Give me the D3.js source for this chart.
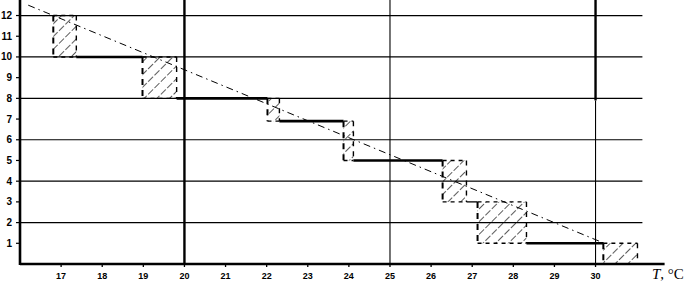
<!DOCTYPE html>
<html><head><meta charset="utf-8">
<script src="https://cdn.jsdelivr.net/npm/d3@7/dist/d3.min.js"></script>
<style>html,body{margin:0;padding:0;background:#fff;}svg{display:block;}</style>
</head><body>
<svg id="c" width="685" height="283"></svg>
<script>
// ---- data ----
const xTicks = [17,18,19,20,21,22,23,24,25,26,27,28,29,30];
const yTicks = [1,2,3,4,5,6,7,8,9,10,11,12];
const gridY = [2,4,6,8,10,12];
// uncertainty boxes: temperature range and value range
const boxT0 = [16.81, 18.98, 22.02, 23.87, 26.28, 27.13, 30.19];
const boxT1 = [17.37, 19.81, 22.31, 24.11, 26.86, 28.32, 31.02];
const boxTop = [12, 10, 8, 6.9, 5, 3, 1];
const boxBot = [10, 8, 6.9, 5, 3, 1, 0];
// trend line (dash-dot)
const trendT = [16.2, 30.25];
const trendV = [12.5, 0.97];

const svg = d3.select('#c');
const x = d3.scaleLinear().domain([16, 31.68]).range([20, 664.6]);
const y = d3.scaleLinear().domain([0, 12.75]).range([264, 0]);

// hatch pattern
const defs = svg.append('defs');
const pat = defs.append('pattern').attr('id','hatch').attr('patternUnits','userSpaceOnUse')
  .attr('width',9).attr('height',9).attr('patternTransform','rotate(45)');
pat.append('line').attr('x1',0).attr('y1',0).attr('x2',0).attr('y2',9)
  .attr('stroke','#000').attr('stroke-width',1.3).attr('stroke-dasharray','7,2');

// horizontal grid
svg.append('g').selectAll('line').data(gridY).join('line')
  .attr('x1', x(16)).attr('x2', x(31.14))
  .attr('y1', d=>y(d)).attr('y2', d=>y(d))
  .attr('stroke','#000').attr('stroke-width',1.2);

// vertical lines
svg.append('line').attr('x1',x(20)).attr('x2',x(20)).attr('y1',0).attr('y2',y(0)).attr('stroke','#000').attr('stroke-width',2.4);
svg.append('line').attr('x1',x(25)).attr('x2',x(25)).attr('y1',0).attr('y2',y(0)).attr('stroke','#000').attr('stroke-width',1.1);
svg.append('line').attr('x1',x(30)).attr('x2',x(30)).attr('y1',0).attr('y2',y(7.9)).attr('stroke','#000').attr('stroke-width',2.4);
svg.append('line').attr('x1',x(30)).attr('x2',x(30)).attr('y1',y(7.9)).attr('y2',y(0)).attr('stroke','#000').attr('stroke-width',1.1);

// boxes
const boxes = boxT0.map((t,i)=>({t0:t,t1:boxT1[i],top:boxTop[i],bot:boxBot[i]}));
const bg = svg.append('g');
bg.selectAll('rect.h').data(boxes).join('rect').attr('class','h')
  .attr('x',d=>x(d.t0)).attr('y',d=>y(d.top))
  .attr('width',d=>x(d.t1)-x(d.t0)).attr('height',d=>y(d.bot)-y(d.top))
  .attr('fill','url(#hatch)');
bg.selectAll('line.l').data(boxes).join('line').attr('class','l')
  .attr('x1',d=>x(d.t0)).attr('x2',d=>x(d.t0)).attr('y1',d=>y(d.top)).attr('y2',d=>y(d.bot))
  .attr('stroke','#000').attr('stroke-width',2).attr('stroke-dasharray','6,5');
bg.selectAll('line.r').data(boxes).join('line').attr('class','r')
  .attr('x1',d=>x(d.t1)).attr('x2',d=>x(d.t1)).attr('y1',d=>y(d.top)).attr('y2',d=>y(d.bot))
  .attr('stroke','#000').attr('stroke-width',1.4).attr('stroke-dasharray','5,5');
bg.selectAll('line.t').data(boxes).join('line').attr('class','t')
  .attr('x1',d=>x(d.t0)).attr('x2',d=>x(d.t1)).attr('y1',d=>y(d.top)).attr('y2',d=>y(d.top))
  .attr('stroke','#000').attr('stroke-width',1.4).attr('stroke-dasharray','4,4');
bg.selectAll('line.b').data(boxes).join('line').attr('class','b')
  .attr('x1',d=>x(d.t0)).attr('x2',d=>x(d.t1)).attr('y1',d=>y(d.bot)).attr('y2',d=>y(d.bot))
  .attr('stroke','#000').attr('stroke-width',1.4).attr('stroke-dasharray','4,4');

// step connectors
const steps = boxes.slice(0,-1).map((d,i)=>({t0:d.t1,t1:boxes[i+1].t0,v:d.bot}));
svg.append('g').selectAll('line').data(steps).join('line')
  .attr('x1',d=>x(d.t0)).attr('x2',d=>x(d.t1)).attr('y1',d=>y(d.v)).attr('y2',d=>y(d.v))
  .attr('stroke','#000').attr('stroke-width',d=>(d.t1-d.t0)<0.5?1.3:2.6);

// trend line
svg.append('path').datum(trendT.map((t,i)=>[t,trendV[i]]))
  .attr('d', d3.line().x(d=>x(d[0])).y(d=>y(d[1])))
  .attr('fill','none').attr('stroke','#000').attr('stroke-width',1)
  .attr('stroke-dasharray','7,4,1.5,4');

// axes
svg.append('line').attr('x1',x(16)).attr('x2',x(16)).attr('y1',0).attr('y2',y(0)+1).attr('stroke','#000').attr('stroke-width',2.6);
svg.append('line').attr('x1',x(16)).attr('x2',x(31.68)).attr('y1',y(0)).attr('y2',y(0)).attr('stroke','#000').attr('stroke-width',2.4);

// x ticks and labels
const xg = svg.append('g');
xg.selectAll('line').data(xTicks).join('line')
  .attr('x1',d=>x(d)).attr('x2',d=>x(d)).attr('y1',y(0)).attr('y2',y(0)+3)
  .attr('stroke','#000').attr('stroke-width',1.3);
xg.selectAll('text').data(xTicks).join('text')
  .attr('x',d=>x(d)).attr('y',279).attr('text-anchor','middle')
  .attr('font-family','Liberation Sans, Arial, sans-serif').attr('font-size',9).attr('font-weight','bold')
  .text(d=>d);

// y ticks and labels
const yg = svg.append('g');
yg.selectAll('line').data(yTicks).join('line')
  .attr('x1',x(16)-4).attr('x2',x(16)).attr('y1',d=>y(d)).attr('y2',d=>y(d))
  .attr('stroke','#000').attr('stroke-width',1.2);
yg.selectAll('text').data(yTicks).join('text')
  .attr('x',12).attr('y',d=>y(d)+3.5).attr('text-anchor','end')
  .attr('font-family','Liberation Sans, Arial, sans-serif').attr('font-size',10).attr('font-weight','bold')
  .text(d=>d);

// axis title
const tt = svg.append('text').attr('x',652).attr('y',279)
  .attr('font-family','Liberation Serif, Times New Roman, serif').attr('font-size',15);
tt.append('tspan').attr('font-style','italic').text('T');
tt.append('tspan').text(', °C');
</script>
</body></html>
